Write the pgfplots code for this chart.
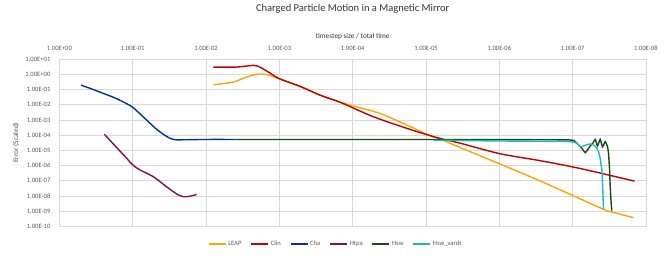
\documentclass[border=0pt]{standalone}
\usepackage{fontspec}
\setmainfont{Carlito}
\usepackage{pgfplots}
\pgfplotsset{compat=1.18}
\definecolor{cLEAP}{HTML}{FFA500}
\definecolor{cClin}{HTML}{C00000}
\definecolor{cCha}{HTML}{00309E}
\definecolor{cHtpa}{HTML}{7F0F4F}
\definecolor{cHsw}{HTML}{1A4A1A}
\definecolor{cHswv}{HTML}{1DB9C0}
\definecolor{gridc}{HTML}{D9D9D9}
\definecolor{txt}{HTML}{595959}
\begin{document}
\begin{tikzpicture}
\useasboundingbox (-59.4pt,-28.7pt) rectangle (609.6pt,226.3pt);
\begin{axis}[
  scale only axis, width=586.6pt, height=167pt,
  xmode=log, ymode=log, x dir=reverse,
  xmin=1e-8, xmax=1, ymin=1e-10, ymax=10,
  xtick={1,1e-1,1e-2,1e-3,1e-4,1e-5,1e-6,1e-7,1e-8},
  xticklabels={1.00E+00,1.00E-01,1.00E-02,1.00E-03,1.00E-04,1.00E-05,1.00E-06,1.00E-07,1.00E-08},
  ytick={1e-10,1e-9,1e-8,1e-7,1e-6,1e-5,1e-4,1e-3,1e-2,1e-1,1,10},
  yticklabels={1.00E-10,1.00E-09,1.00E-08,1.00E-07,1.00E-06,1.00E-05,1.00E-04,1.00E-03,1.00E-02,1.00E-01,1.00E+00,1.00E+01},
  xminorticks=false, yminorticks=false,
  xticklabel pos=top,
  major tick length=0pt,
  grid=major, grid style={gridc, line width=0.8pt},
  axis line style={gridc, line width=0.8pt},
  tick label style={font=\fontsize{6.6}{8}\selectfont, text=txt},
  xticklabel style={yshift=5.5pt},
  yticklabel style={xshift=-5.5pt},
  title={Charged Particle Motion in a Magnetic Mirror},
  title style={at={(axis description cs:0.5,1.265)}, anchor=center, font=\fontsize{10.5}{12}\selectfont, text=black!80},
  xlabel={timestep size / total time},
  xlabel style={at={(axis description cs:0.5,1.134)}, anchor=center, font=\fontsize{7.3}{9}\selectfont, text=black!80},
  ylabel={Error (Scaled)},
  ylabel style={at={(axis description cs:-0.074,0.5)}, anchor=center, font=\fontsize{7.3}{9}\selectfont, text=txt},
  clip=false,
  legend columns=-1,
  legend style={draw=none, fill=none, at={(axis description cs:0.471,-0.106)}, anchor=center,
    font=\fontsize{6.6}{8}\selectfont, text=txt,
    /tikz/every even column/.append style={column sep=7pt}},
  legend image code/.code={\draw[#1] (0pt,0pt) -- (17pt,0pt);},
  every axis plot/.append style={line width=1.4pt, no markers},
]
% LEAP
\addplot[cLEAP, smooth, tension=0.5] coordinates {
(0.007943,0.2138) (0.004266,0.3162) (0.002818,0.6761) (0.001950,1.072) (0.001479,0.9772)
(0.001148,0.6457) (0.001,0.5248) (5.248e-4,0.1660) (2.754e-4,0.04266) (1.479e-4,0.01479)
(7.943e-5,0.006457) (4.266e-5,0.002754) (1.820e-5,4.677e-4) (9.772e-6,1.148e-4)
(6.457e-6,5.623e-5) (3.388e-6,1.514e-5) (9.772e-7,1.259e-6) (2.754e-7,9.550e-8)
(9.772e-8,1.023e-8) (3.802e-8,1.318e-9) (2.951e-8,8.913e-10) (1.660e-8,4.266e-10) (1.479e-8,3.715e-10)
};
\addlegendentry{LEAP}
% Clin
\addplot[cClin, smooth, tension=0.5] coordinates {
(0.007943,3.090) (0.003802,3.090) (0.002265,3.981) (0.001820,2.951) (0.001349,1.259)
(0.001,0.5248) (5.248e-4,0.1660) (2.754e-4,0.04266) (1.479e-4,0.01479) (5.248e-5,0.001660)
(1.820e-5,2.818e-4) (7.079e-6,6.918e-5) (3.388e-6,2.951e-5) (9.772e-7,6.026e-6)
(2.754e-7,2.089e-6) (8.128e-8,6.607e-7) (1.660e-8,1.122e-7) (1.479e-8,1.0e-7)
};
\addlegendentry{Clin}
% Cha
\addplot[cCha, smooth, tension=0.5] coordinates {
(0.507,0.1995) (0.3548,0.1072) (0.2512,0.05623) (0.1778,0.02951) (0.1259,0.01318)
(0.1,0.006918) (0.07943,0.002512) (0.06310,8.913e-4) (0.05012,3.162e-4) (0.03981,1.318e-4)
(0.03162,6.607e-5) (0.02630,5.012e-5) (0.01995,5.012e-5) (0.01,5.248e-5) (0.003981,5.248e-5)
};
\addlegendentry{Cha}
% Htpa
\addplot[cHtpa, smooth, tension=0.5] coordinates {
(0.2438,1.148e-4) (0.1778,2.239e-5) (0.1208,3.020e-6) (0.1,1.096e-6) (0.07943,5.129e-7)
(0.05248,1.862e-7) (0.03467,4.074e-8) (0.02512,1.349e-8) (0.02042,8.913e-9) (0.01585,1.0e-8) (0.01349,1.288e-8)
};
\addlegendentry{Htpa}
% Hsw
\addplot[cHsw, smooth, tension=0.3] coordinates {
(0.003981,5.248e-5) (1e-4,5.248e-5) (1e-6,5.129e-5) (1.122e-7,4.898e-5)
(9.247e-8,3.750e-5) (8.318e-8,2.259e-5) (7.499e-8,1.365e-5) (6.745e-8,7.063e-6)
(6.281e-8,1.059e-5) (5.768e-8,1.945e-5) (5.309e-8,2.911e-5) (4.932e-8,5.346e-5)
(4.581e-8,1.945e-5) (4.217e-8,5.346e-5) (3.917e-8,1.754e-5) (3.597e-8,3.750e-5)
(3.350e-8,1.754e-5) (3.243e-8,6.383e-6) (3.141e-8,5.093e-7) (3.076e-8,4.064e-8)
(2.985e-8,3.243e-9) (2.924e-8,1.067e-9)
};
\addlegendentry{Hsw}
% Hsw_vardt
\addplot[cHswv, smooth, tension=0.3] coordinates {
(7.943e-6,4.677e-5) (1e-6,4.169e-5) (1.122e-7,3.802e-5) (8.770e-8,2.911e-5)
(7.907e-8,1.754e-5) (7.112e-8,1.945e-5) (6.412e-8,2.377e-5) (5.768e-8,2.630e-5)
(5.200e-8,2.259e-5) (4.775e-8,1.585e-5) (4.446e-8,8.222e-6) (4.217e-8,2.992e-6)
(4.130e-8,1.403e-6) (3.999e-8,5.093e-7) (3.917e-8,6.745e-8) (3.793e-8,1.306e-9)
};
\addlegendentry{Hsw\_vardt}
\end{axis}
\end{tikzpicture}
\end{document}
